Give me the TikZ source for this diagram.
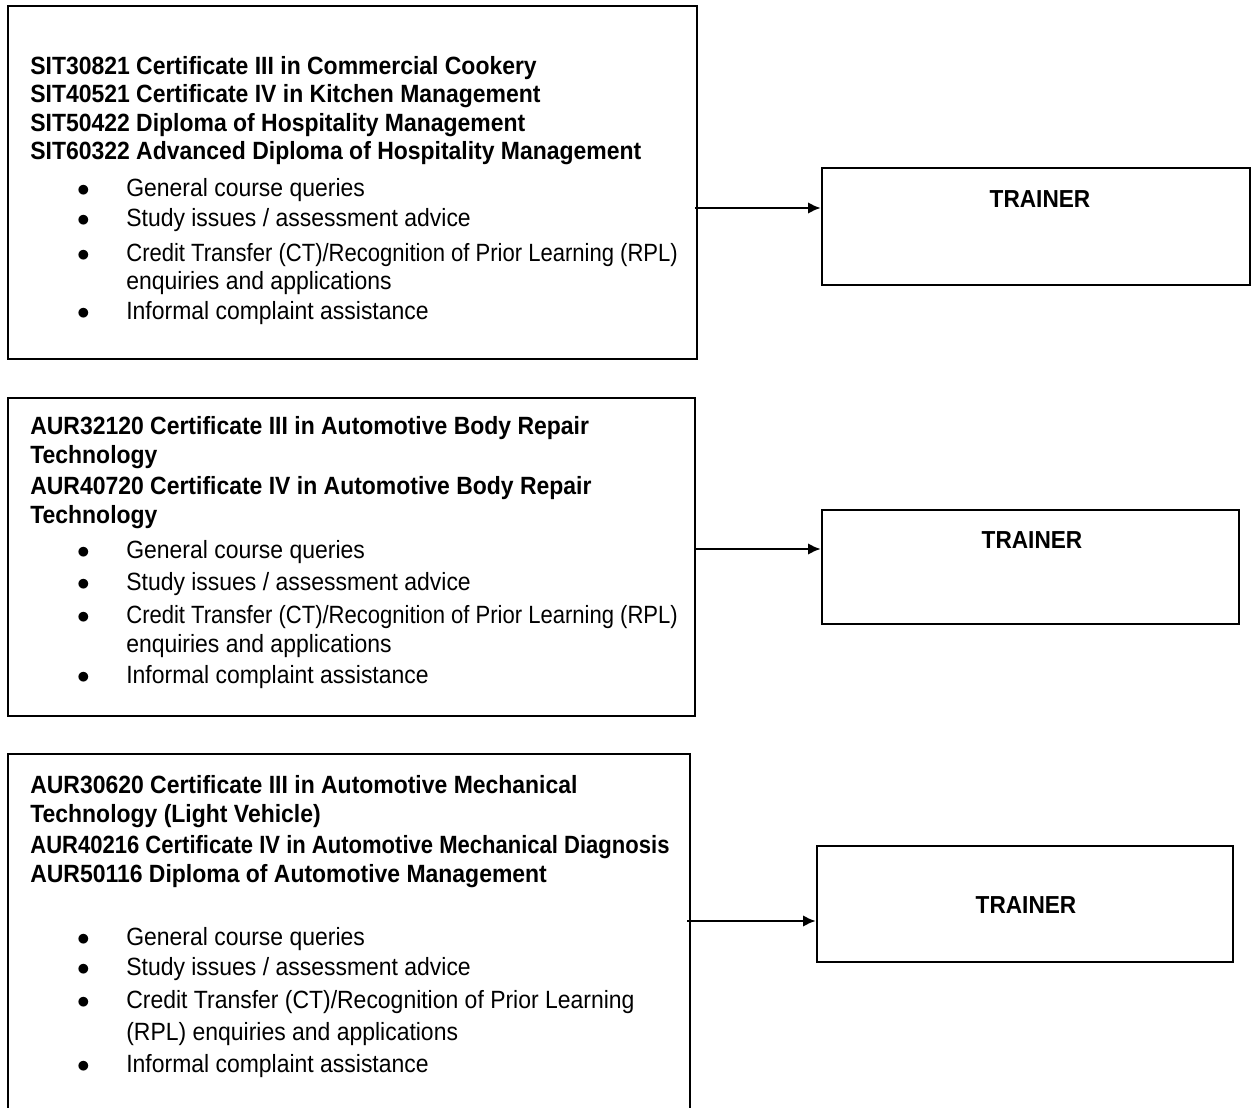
\documentclass[tikz,border=0pt]{standalone}
\usepackage{fontspec}
\usepackage{graphicx}
\setmainfont[FakeStretch=0.92]{Liberation Sans}
\usetikzlibrary{arrows.meta,fit}

\newdimen\pxd \pxd=0.02cm
% bullet centred on the node's west end, text 43px further
\newcommand{\bl}{\makebox[0pt]{$\bullet$}\hspace*{43\pxd}}

\tikzset{
  box/.style={draw, line width=1.4pt, inner sep=0pt},
  head/.style={anchor=base west, inner sep=0pt, font=\bfseries\fontsize{14.2}{17}\selectfont},
  txt/.style={anchor=base west, inner sep=0pt, font=\fontsize{14.2}{17}\selectfont},
  lbl/.style={anchor=base, inner sep=0pt, font=\bfseries\fontsize{14}{17}\selectfont},
  link/.style={-{Latex[length=7.2pt,width=6.6pt]}, line width=1.4pt}
}

\begin{document}
\begin{tikzpicture}[x=0.02cm, y=-0.02cm]

	\useasboundingbox (0,0) rectangle (1252,1108);
	\clip (0,0) rectangle (1252,1108);

	%Cookery and hospitality
	\node[box, fit={(8,6) (697,359)}] (sit) {};
	\node[head] (h1a) at (30,75) {SIT30821 Certificate III in Commercial Cookery};
	\node[head] (h1b) at (30,103) {SIT40521 Certificate IV in Kitchen Management};
	\node[head] (h1c) at (30,132) {SIT50422 Diploma of Hospitality Management};
	\node[head] (h1d) at (30,160) {SIT60322 Advanced Diploma of Hospitality Management};
	\node[txt] (t1a) at (83,197) {\bl General course queries};
	\node[txt] (t1b) at (83,227) {\bl Study issues / assessment advice};
	\node[txt] (t1c) at (83,262) {\bl \scalebox{0.96}[1]{Credit Transfer (CT)/Recognition of Prior Learning (RPL)}};
	\node[txt] (t1d) at (126,290) {enquiries and applications};
	\node[txt] (t1e) at (83,320) {\bl Informal complaint assistance};

	\node[box, fit={(822,168) (1250,285)}] (tr1) {};
	\node[lbl] (tr1txt) at (1040,208) {TRAINER};

	%Body repair
	\node[box, fit={(8,398) (695,716)}] (body) {};
	\node[head] (h2a) at (30,435) {AUR32120 Certificate III in Automotive Body Repair};
	\node[head] (h2b) at (30,463) {Technology};
	\node[head] (h2c) at (30,495) {AUR40720 Certificate IV in Automotive Body Repair};
	\node[head] (h2d) at (30,523) {Technology};
	\node[txt] (t2a) at (83,558) {\bl General course queries};
	\node[txt] (t2b) at (83,590) {\bl Study issues / assessment advice};
	\node[txt] (t2c) at (83,623) {\bl \scalebox{0.96}[1]{Credit Transfer (CT)/Recognition of Prior Learning (RPL)}};
	\node[txt] (t2d) at (126,652) {enquiries and applications};
	\node[txt] (t2e) at (83,683) {\bl Informal complaint assistance};

	\node[box, fit={(822,510) (1239,624)}] (tr2) {};
	\node[lbl] (tr2txt) at (1032,548) {TRAINER};

	%Mechanical
	\node[box, fit={(8,754) (690,1140)}] (mech) {};
	\node[head] (h3a) at (30,793) {AUR30620 Certificate III in Automotive Mechanical};
	\node[head] (h3b) at (30,822) {Technology (Light Vehicle)};
	\node[head] (h3c) at (30,853) {\scalebox{0.96}[1]{AUR40216 Certificate IV in Automotive Mechanical Diagnosis}};
	\node[head] (h3d) at (30,882) {AUR50116 Diploma of Automotive Management};
	\node[txt] (t3a) at (83,945) {\bl General course queries};
	\node[txt] (t3b) at (83,975) {\bl Study issues / assessment advice};
	\node[txt] (t3c) at (83,1008) {\bl Credit Transfer (CT)/Recognition of Prior Learning};
	\node[txt] (t3d) at (126,1040) {(RPL) enquiries and applications};
	\node[txt] (t3e) at (83,1072) {\bl Informal complaint assistance};

	\node[box, fit={(817,846) (1233,962)}] (tr3) {};
	\node[lbl] (tr3txt) at (1026,913) {TRAINER};

	%arrows
	\coordinate (a1) at (695,208);
	\coordinate (a2) at (695,549);
	\coordinate (a3) at (687,921);
	\draw[link] (a1) -- (a1 -| tr1.west);
	\draw[link] (a2) -- (a2 -| tr2.west);
	\draw[link] (a3) -- (a3 -| tr3.west);

\end{tikzpicture}
\end{document}
